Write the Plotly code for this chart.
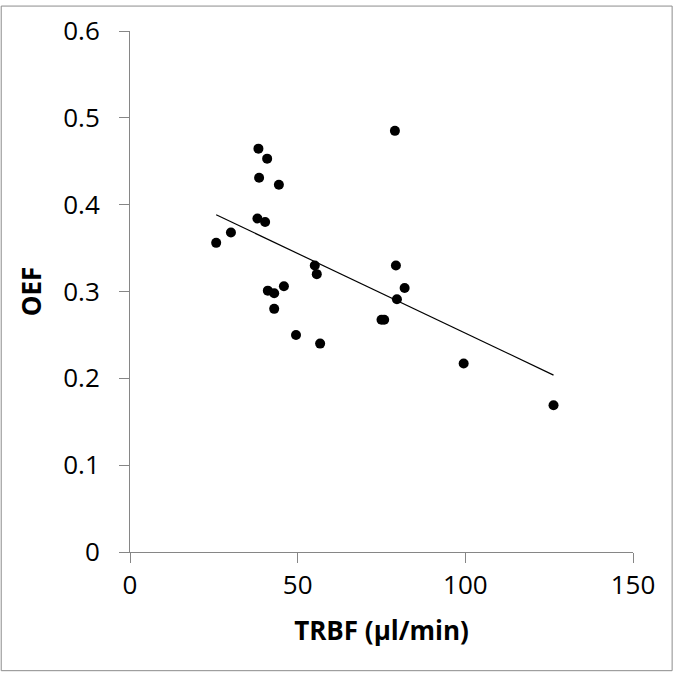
import numpy as np
import plotly.graph_objects as go

# Data
trbf = [25.7, 30.1, 38.3, 40.9, 38.5, 44.4, 38.0, 40.3, 55.1, 55.7, 45.9, 41.1,
        43.0, 43.0, 49.5, 56.7, 79.0, 79.3, 81.9, 79.6, 75.0, 75.8, 99.5, 126.3]
oef = [0.356, 0.368, 0.4645, 0.453, 0.431, 0.423, 0.384, 0.380, 0.330, 0.320, 0.306, 0.301,
       0.298, 0.280, 0.250, 0.240, 0.485, 0.330, 0.304, 0.291, 0.2675, 0.2675, 0.217, 0.169]
x_ticks = [0, 50, 100, 150]
y_ticks = [0, 0.1, 0.2, 0.3, 0.4, 0.5, 0.6]
y_tick_labels = ["0", "0.1", "0.2", "0.3", "0.4", "0.5", "0.6"]

# Linear trendline (least squares), spanning the data range
slope, intercept = np.polyfit(trbf, oef, 1)
fit_x = [min(trbf), max(trbf)]
fit_y = [slope * v + intercept for v in fit_x]

W = H = 673
L, R, T, B = 129.5, 39.7, 25.7, 120.5
axis_col = "#868686"
font_fam = "Open Sans, Calibri, Liberation Sans, sans-serif"

fig = go.Figure()
fig.add_trace(go.Scatter(x=fit_x, y=fit_y, mode="lines",
                         line=dict(color="black", width=1.2), hoverinfo="skip"))
fig.add_trace(go.Scatter(x=trbf, y=oef, mode="markers",
                         marker=dict(color="black", size=10, line=dict(width=0))))

pw = W - L - R
ph = H - T - B
fig.add_shape(type="rect", xref="paper", yref="paper",
              x0=-L / pw + 0.5 / pw, x1=1 + (R - 0.5) / pw,
              y0=-B / ph + 0.5 / ph, y1=1 + (T - 0.5) / ph,
              line=dict(color="#8c8c8c", width=1), fillcolor="rgba(0,0,0,0)", layer="below")

fig.update_layout(
    width=W, height=H,
    margin=dict(l=L, r=R, t=T, b=B, pad=0),
    paper_bgcolor="white", plot_bgcolor="white",
    showlegend=False,
    font=dict(family=font_fam, color="black", size=26),
    xaxis=dict(range=[0, 150], tickvals=x_ticks, ticktext=[str(v) for v in x_ticks],
               showgrid=False, zeroline=False, showline=True, linecolor=axis_col, linewidth=1,
               ticks="outside", ticklen=10, tickcolor=axis_col, tickwidth=1,
               tickfont=dict(size=26, family=font_fam),
               title=dict(text="<b>TRBF (µl/min)</b>", font=dict(size=26, family=font_fam), standoff=20)),
    yaxis=dict(range=[0, 0.6], tickvals=y_ticks, ticktext=y_tick_labels,
               showgrid=False, zeroline=False, showline=True, linecolor=axis_col, linewidth=1,
               ticks="outside", ticklen=10, tickcolor=axis_col, tickwidth=1,
               tickfont=dict(size=26, family=font_fam), ticklabelstandoff=14,
               title=dict(text="<b>OEF</b>", font=dict(size=26, family=font_fam), standoff=14)),
)

fig.write_html("out.html", config={"displayModeBar": False},
               post_script="document.body.style.margin='0';document.body.style.padding='0';"
                           "document.body.style.overflow='hidden';")
